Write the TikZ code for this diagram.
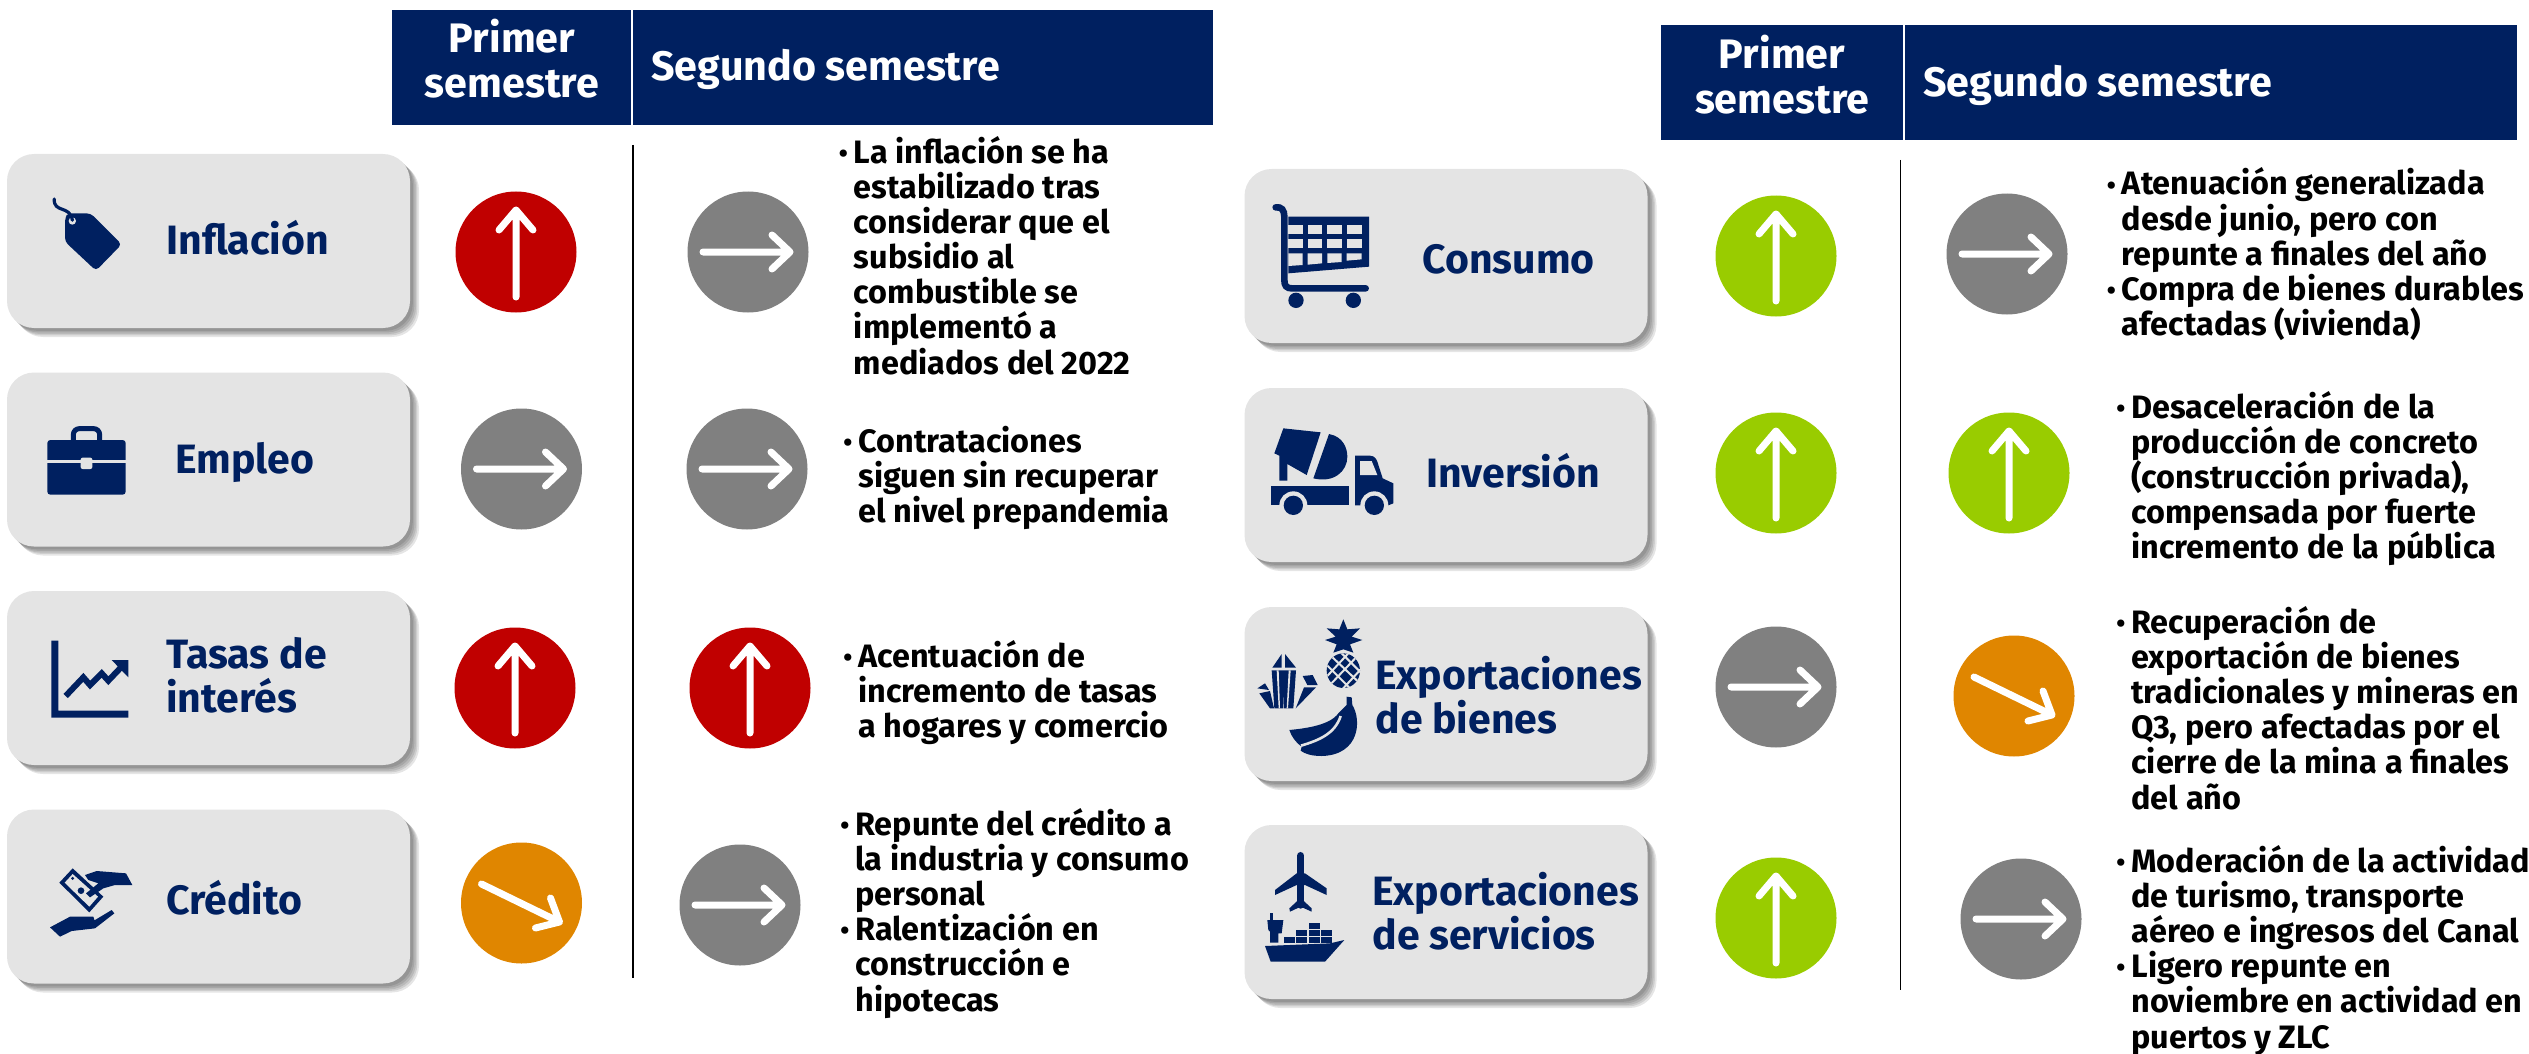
\documentclass[tikz,border=0pt]{standalone}
\usepackage{fontspec}
\setmainfont{Fira Sans}
\definecolor{navy}{HTML}{002060}
\definecolor{cardgray}{HTML}{E4E4E4}
\definecolor{redc}{HTML}{C00000}
\definecolor{greenc}{HTML}{99CC00}
\definecolor{orangec}{HTML}{E08600}
\definecolor{grayc}{HTML}{808080}
\newcommand{\linesL}[1]{\vtop{\lineskiplimit=-20pt \let\\=\cr \halign{##\hfil\cr #1\crcr}}}
\newcommand{\linesC}[1]{\vtop{\lineskiplimit=-20pt \let\\=\cr \halign{\hfil##\hfil\cr #1\crcr}}}
\newcommand{\bul}{\llap{\raisebox{0.5pt}{\fontsize{13}{13}\selectfont •}\hspace{3pt}}}
\tikzset{
  x=0.5pt,y=-0.5pt,
  shadowlayer/.style={preaction={fill=black,fill opacity=0.10,draw=none,transform canvas={shift={(#1pt,-#1pt)}}}},
  card/.style={draw=none,fill=cardgray,rounded corners=13.5pt,minimum width=201.5pt,minimum height=87pt,inner sep=0pt,
    shadowlayer=4.5,shadowlayer=3.7,shadowlayer=3,shadowlayer=2.2,shadowlayer=1.4},
  hdr/.style={draw=none,fill=navy,inner sep=0pt,minimum height=57.5pt},
  hdrtext/.style={text=white,inner sep=0pt,font=\fontsize{20.6}{22.5}\selectfont\bfseries},
  cardtext/.style={text=navy,inner sep=0pt,anchor=base west,font=\fontsize{20.5}{22}\selectfont\bfseries},
  body/.style={text=black,inner sep=0pt,anchor=base west,font=\fontsize{16.2}{17.6}\selectfont\bfseries},
  trend/.style={circle,draw=none,inner sep=0pt,minimum size=60.5pt},
  wl/.style={draw=white,line width=3.5pt,line cap=round,line join=round},
  uparrow/.pic={\draw[wl] (0,45)--(0,-42) (-17,-22)--(0,-42)--(17,-22);},
  rightarrow/.pic={\draw[wl] (-45,0)--(42,0) (24,-17)--(42,0)--(24,17);},
  downarrow/.pic={\draw[wl] (-40,-19)--(38,19) (29,-5)--(38,19)--(14,25);},
  crop/.style 2 args={shift={(#1,#2)},x=0.166667pt,y=-0.166667pt},
  ico/.style={fill=navy,draw=none},
}
\begin{document}
\begin{tikzpicture}
\useasboundingbox (0,0) rectangle (2529,1054);
% headers
\node[hdr,minimum width=119.5pt] (h1) at (511.5,67.5) {};
\node[hdr,minimum width=290pt] (h2) at (923,67.5) {};
\node[hdr,minimum width=121pt] (h3) at (1782,83) {};
\node[hdr,minimum width=306pt] (h4) at (2211,83) {};
\node[hdrtext,anchor=base] (h1t) at (512,53) {\linesC{Primer\\semestre}};
\node[hdrtext,anchor=base west] (h2t) at (651,81) {Segundo semestre};
\node[hdrtext,anchor=base] (h3t) at (1782,69) {\linesC{Primer\\semestre}};
\node[hdrtext,anchor=base west] (h4t) at (1923,97) {Segundo semestre};
% dividers
\coordinate (v1a) at (633,145); \coordinate (v1b) at (633,978);
\coordinate (v2a) at (1900.5,160); \coordinate (v2b) at (1900.5,990);
\draw[black,line width=0.7pt] (v1a)--(v1b);
\draw[black,line width=0.7pt] (v2a)--(v2b);
% cards
\node[card] (c1) at (208.5,241) {};
\node[card] (c2) at (208.5,459.5) {};
\node[card] (c3) at (208.5,678) {};
\node[card] (c4) at (208.5,896.5) {};
\node[card] (c5) at (1446,256) {};
\node[card] (c6) at (1446,475) {};
\node[card] (c7) at (1446,694) {};
\node[card] (c8) at (1446,912) {};
% card labels
\node[cardtext] (l1) at (166,255) {Inflación};
\node[cardtext] (l2) at (175,473) {Empleo};
\node[cardtext] (l3) at (166,668) {\linesL{Tasas de\\interés}};
\node[cardtext] (l4) at (166,914) {Crédito};
\node[cardtext] (l5) at (1422,273) {Consumo};
\node[cardtext] (l6) at (1426,487) {Inversión};
\node[cardtext] (l7) at (1375,689) {\linesL{Exportaciones\\de bienes}};
\node[cardtext] (l8) at (1372,905) {\linesL{Exportaciones\\de servicios}};
% trend circles
\node[trend,fill=redc] (t1) at (516,252) {}; \pic at (t1) {uparrow};
\node[trend,fill=grayc] (t2) at (521.5,469) {}; \pic at (t2) {rightarrow};
\node[trend,fill=redc] (t3) at (515,688) {}; \pic at (t3) {uparrow};
\node[trend,fill=orangec] (t4) at (521.5,903) {}; \pic at (t4) {downarrow};
\node[trend,fill=grayc] (u1) at (748,252) {}; \pic at (u1) {rightarrow};
\node[trend,fill=grayc] (u2) at (747,469) {}; \pic at (u2) {rightarrow};
\node[trend,fill=redc] (u3) at (750,688) {}; \pic at (u3) {uparrow};
\node[trend,fill=grayc] (u4) at (740,905) {}; \pic at (u4) {rightarrow};
\node[trend,fill=greenc] (t5) at (1776,256) {}; \pic at (t5) {uparrow};
\node[trend,fill=greenc] (t6) at (1776,473) {}; \pic at (t6) {uparrow};
\node[trend,fill=grayc] (t7) at (1776,687) {}; \pic at (t7) {rightarrow};
\node[trend,fill=greenc] (t8) at (1776,918) {}; \pic at (t8) {uparrow};
\node[trend,fill=grayc] (u5) at (2007,254) {}; \pic at (u5) {rightarrow};
\node[trend,fill=greenc] (u6) at (2009,473) {}; \pic at (u6) {uparrow};
\node[trend,fill=orangec] (u7) at (2014,696) {}; \pic at (u7) {downarrow};
\node[trend,fill=grayc] (u8) at (2021,919) {}; \pic at (u8) {rightarrow};
% body texts
\node[body] (b1) at (853.5,163) {\linesL{\bul La inflación se ha\\estabilizado tras\\considerar que el\\subsidio al\\combustible se\\implementó a\\mediados del 2022}};
\node[body] (b2) at (858,452) {\linesL{\bul Contrataciones\\siguen sin recuperar\\el nivel prepandemia}};
\node[body] (b3) at (858,667.5) {\linesL{\bul Acentuación de\\incremento de tasas\\a hogares y comercio}};
\node[body] (b4) at (855,835) {\linesL{\bul Repunte del crédito a\\la industria y consumo\\personal\\\bul Ralentización en\\construcción e\\hipotecas}};
\node[body] (b5) at (2121.5,195) {\linesL{\bul Atenuación generalizada\\desde junio, pero con\\repunte a finales del año\\\bul Compra de bienes durables\\afectadas (vivienda)}};
\node[body] (b6) at (2131,418) {\linesL{\bul Desaceleración de la\\producción de concreto\\(construcción privada),\\compensada por fuerte\\incremento de la pública}};
\node[body] (b7) at (2131,633) {\linesL{\bul Recuperación de\\exportación de bienes\\tradicionales y mineras en\\Q3, pero afectadas por el\\cierre de la mina a finales\\del año}};
\node[body] (b8) at (2131,872) {\linesL{\bul Moderación de la actividad\\de turismo, transporte\\aéreo e ingresos del Canal\\\bul Ligero repunte en\\noviembre en actividad en\\puertos y ZLC}};
% tag icon
\begin{scope}[crop={0}{130}]
\fill[ico,rounded corners=2pt] (195,262)--(205,250)--(272,250)--(365,343)--(288,422)--(195,335)--cycle;
\fill[cardgray] (217,273) circle (11);
\fill[ico] (217,270) circle (5);
\draw[navy,line width=1.6pt,line cap=round] (163,207) .. controls (160,250) and (210,225) .. (217,270);
\end{scope}
% briefcase icon
\begin{scope}[crop={0}{130}]
\fill[ico,rounded corners=1.5pt] (142,930) rectangle (377,1094);
\fill[cardgray] (142,990) rectangle (377,998);
\fill[cardgray,rounded corners=1pt] (242,983) rectangle (277,1017);
\draw[navy,line width=2.5pt,rounded corners=3pt] (220,932)--(220,896)--(299,896)--(299,932);
\end{scope}
% chart icon
\begin{scope}[crop={0}{570}]
\fill[ico] (154,212)--(175,212)--(175,422)--(385,422)--(385,443)--(154,443)--cycle;
\draw[navy,line width=3pt] (197,378)--(250,322)--(270,345)--(305,310)--(325,332)--(365,290);
\fill[ico] (335,270)--(385,270)--(385,322)--cycle;
\end{scope}
% credit icon
\begin{scope}[crop={0}{570}]
\fill[ico] (178,938)--(218,895)--(310,980)--(268,1027)--cycle;
\fill[cardgray] (194,938)--(218,912)--(294,980)--(268,1010)--cycle;
\fill[ico] (243,962) circle (10);
\fill[ico] (218,925) circle (5);
\fill[ico] (255,915)--(290,903)--(378,910)--(397,945)--(345,945)--(310,955)--(270,982)--(258,970)--(295,940)--(265,930)--cycle;
\fill[ico] (150,1072)--(210,1040)--(280,1040)--(285,1055)--(265,1062)--(335,1020)--(343,1030)--(285,1075)--(215,1083)--(180,1100)--cycle;
\end{scope}
% cart icon
\begin{scope}[crop={1230}{150}]
\fill[ico] (175,200)--(417,200)--(417,350)--(175,370)--cycle;
\foreach \xa/\xb/\ya/\yb in {175/218/224/252,233/276/224/252,292/335/224/252,350/395/224/252,175/218/267/295,233/276/267/295,292/335/267/295,350/395/267/295}
  \fill[cardgray] (\xa,\ya) rectangle (\xb,\yb);
\fill[cardgray] (175,310)--(218,310)--(218,345)--(175,348)--cycle;
\fill[cardgray] (233,310)--(276,310)--(276,340)--(233,344)--cycle;
\fill[cardgray] (292,310)--(335,310)--(335,336)--(292,339)--cycle;
\fill[cardgray] (350,310)--(395,310)--(395,328)--(350,332)--cycle;
\draw[navy,line width=3.3pt,line cap=round] (137,172) .. controls (155,170) and (163,180) .. (163,200)--(163,390) .. controls (163,408) and (170,415) .. (185,415)--(407,415);
\fill[ico] (198,451) circle (23);
\fill[ico] (370,451) circle (23);
\end{scope}
% truck icon
\begin{scope}[crop={1230}{150}]
\fill[ico] (160,835)--(272,847)--(230,975)--(172,942)--(172,992)--(148,992)--(148,917)--(133,910)--cycle;
\fill[ico] (297,852) .. controls (340,860) and (352,895) .. (352,920) .. controls (352,965) and (310,1000) .. (250,985)--cycle;
\fill[ico] (123,1008) rectangle (358,1066);
\fill[ico] (375,917)--(420,917) .. controls (435,917) and (440,930) .. (442,935)--(458,985)--(490,1000)--(490,1060)--(475,1066)--(375,1066)--cycle;
\fill[cardgray] (390,933)--(425,933)--(442,975)--(390,975)--cycle;
\fill[cardgray] (190,1066) circle (42);
\fill[cardgray] (433,1066) circle (42);
\fill[cardgray] (120,1068) rectangle (500,1110);
\fill[ico] (190,1066) circle (29);
\fill[ico] (433,1066) circle (29);
\end{scope}
% goods icon
\begin{scope}[crop={1230}{590}]
\fill[ico] (155,192)--(155,233)--(127,233)--cycle;
\fill[ico] (165,192)--(198,233)--(165,233)--cycle;
\fill[ico] (125,241)--(198,241)--(190,355)--(162,355)--(162,300)--(160,355)--(133,355)--cycle;
\fill[cardgray] (140,241)--(146,241)--(150,355)--(146,355)--cycle;
\fill[cardgray] (176,241)--(182,241)--(174,355)--(170,355)--cycle;
\fill[ico] (82,295)--(105,280)--(117,300)--cycle;
\fill[ico] (88,310)--(120,303)--(132,355)--(120,355)--cycle;
\fill[ico] (218,258)--(248,255)--(263,285)--(232,285)--cycle;
\fill[ico] (222,292)--(258,292)--(197,355)--cycle;
\fill[ico] (340,88)--(352,118)--(390,115)--(365,140)--(397,150)--(360,163)--(370,188)--(340,178)--(310,188)--(320,163)--(285,150)--(317,140)--(290,115)--(328,118)--cycle;
\begin{scope}
\clip (340,242) ellipse [x radius=50,y radius=52];
\fill[ico] (280,180) rectangle (400,300);
\draw[cardgray,line width=1pt] (290,225)--(360,295) (300,195)--(395,285) (330,185)--(395,250) (290,260)--(355,190) (295,290)--(385,195) (335,300)--(395,235);
\end{scope}
\fill[ico] (350,320)--(365,322)--(367,345) .. controls (395,390) and (390,495) .. (275,498) .. controls (245,498) and (225,492) .. (212,482)--(215,470) .. controls (195,455) and (185,440) .. (178,420) .. controls (230,415) and (300,405) .. (325,370)--(350,345)--cycle;
\draw[cardgray,line width=1.3pt] (332,378) .. controls (315,430) and (270,450) .. (213,467);
\end{scope}
% services icon
\begin{scope}[crop={1230}{590}]
\draw[navy,line width=3.7pt,line cap=round] (212,797)--(212,945);
\fill[ico] (200,850)--(135,900)--(135,915)--(200,885)--(225,885)--(290,915)--(290,895)--(225,850)--cycle;
\fill[ico] (205,930)--(178,955)--(180,965)--(212,950)--(245,965)--(245,955)--(218,930)--cycle;
\fill[ico] (105,1068)--(300,1060)--(343,1050)--(285,1115)--(122,1115)--cycle;
\fill[ico] (112,990)--(160,990)--(155,1030)--(145,1030)--(145,1058)--(120,1058)--(120,1025)--(115,1020)--cycle;
\fill[ico] (121,968) rectangle (129,990);
\foreach \xa/\ya/\xb/\yb in {162/1042/195/1058,198/1020/232/1038,198/1040/232/1058,237/1000/270/1017,237/1020/270/1038,237/1040/270/1058,273/1020/305/1038,273/1040/305/1058}
  \fill[ico] (\xa,\ya) rectangle (\xb,\yb);
\end{scope}
\end{tikzpicture}
\end{document}
